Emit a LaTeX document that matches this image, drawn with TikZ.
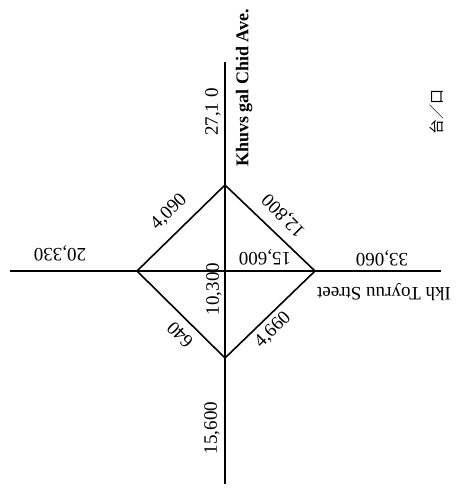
\documentclass[tikz,border=0pt]{standalone}
\usepackage{fontspec}
\setmainfont{Liberation Serif}
\newfontfamily\cjkfont{Noto Sans CJK SC}
\begin{document}
\begin{tikzpicture}[x=1pt,y=-1pt,
  road/.style={line width=1.6pt},
  lbl/.style={font=\fontsize{19}{19}\selectfont, inner sep=0pt},
  streetlbl/.style={font=\fontsize{19}{19}\selectfont, inner sep=0pt}]
\useasboundingbox (0,0) rectangle (469,490);
% axis endpoints
\coordinate (vt) at (225,62);
\coordinate (vb) at (225,484);
\coordinate (hl) at (10,271);
\coordinate (hr) at (441,271);
% diamond vertices
\coordinate (dt) at (225,185);
\coordinate (dr) at (315,271);
\coordinate (db) at (225,358);
\coordinate (dl) at (137,271);
\draw[road] (vt) -- (vb);
\draw[road] (hl) -- (hr);
\draw[road] (dt) -- (dr) -- (db) -- (dl) -- cycle;
% labels
\node[lbl, rotate=90] (n27) at (213,112) {27,1 0};
\node[streetlbl, rotate=90, font=\fontsize{18}{18}\selectfont\bfseries] (khu) at (244,88) {Khuvs gal Chid Ave.};
\node[inner sep=0pt, rotate=90, font=\fontsize{15}{15}\selectfont\cjkfont] (unit) at (437,112) {台／口};
\node[lbl, rotate=180] (n20) at (60,253) {20,330};
\node[lbl, rotate=180] (n33) at (382,258) {33,060};
\node[streetlbl, rotate=180] (ikh) at (384,292) {Ikh Toyruu Street};
\node[lbl, rotate=45] (n4090) at (169,212) {4,090};
\node[lbl, rotate=135] (n12800) at (284,215) {12,800};
\node[lbl, rotate=180] (n15600i) at (265,257) {15,600};
\node[lbl, rotate=90] (n10300) at (214,289) {10,300};
\node[lbl, rotate=135] (n640) at (180,335) {640};
\node[lbl, rotate=45] (n4660) at (273,330) {4,660};
\node[lbl, rotate=90] (n15600) at (212,428) {15,600};
\end{tikzpicture}
\end{document}
